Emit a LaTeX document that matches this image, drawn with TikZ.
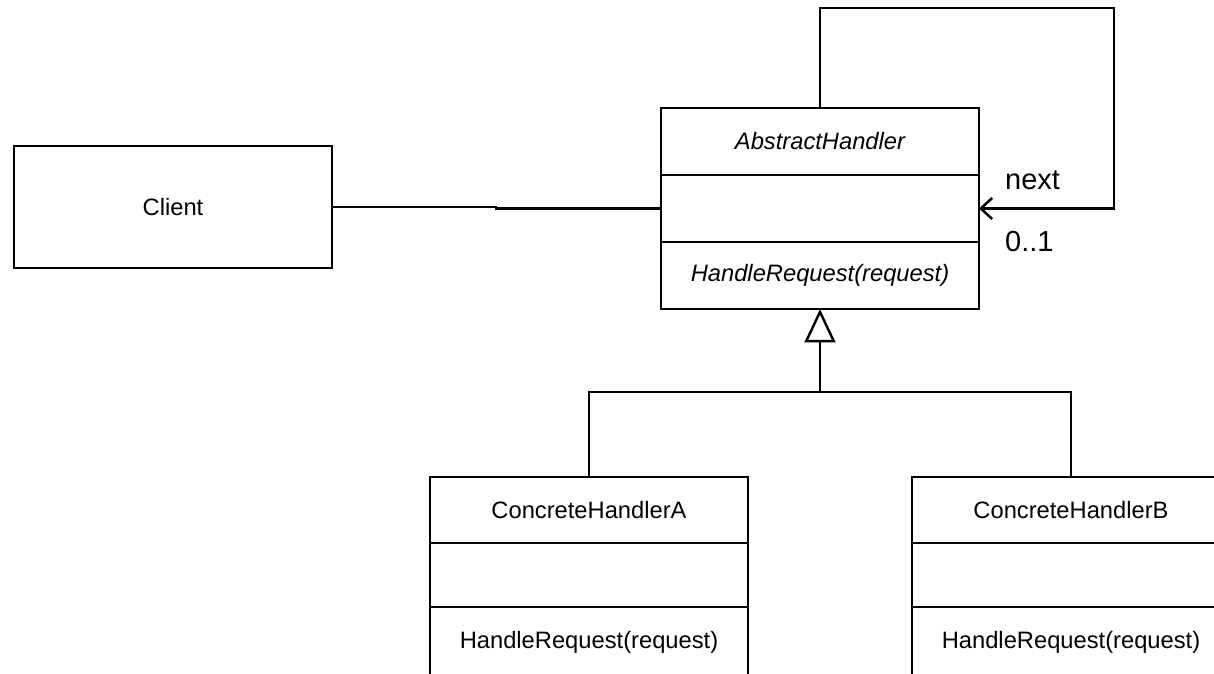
\documentclass[tikz,border=0pt]{standalone}
\usepackage{fontspec}
\setmainfont{Liberation Sans}
\usetikzlibrary{arrows.meta,positioning}

\begin{document}
\begin{tikzpicture}[x=0.02cm, y=-0.02cm, every node/.style={font=\fontsize{13.5}{16}\selectfont, align=center}, cls/.style={draw, line width=1.4pt, minimum width=6.36cm, inner sep=0pt, outer sep=0pt}, abstract/.style={font=\fontsize{13.5}{16}\selectfont\itshape}, role/.style={font=\fontsize{16.5}{19}\selectfont, anchor=west}, link/.style={line width=1.4pt}]
        \useasboundingbox (0,0) rectangle (1214,673);
        \clip (0,0) rectangle (1214,673);

        \node[cls, minimum height=2.44cm] (client) at (173,207) {Client};

        \node[cls, abstract, minimum height=1.34cm, anchor=north] (abs) at (820,108) {AbstractHandler};
        \node[cls, minimum height=1.34cm, below=0pt of abs] (absattr) {};
        \node[cls, abstract, minimum height=1.34cm, below=0pt of absattr] (absops) {HandleRequest(request)};

        \node[cls, minimum height=1.32cm, anchor=north] (cha) at (589,477) {ConcreteHandlerA};
        \node[cls, minimum height=1.28cm, below=0pt of cha] (chaattr) {};
        \node[cls, minimum height=1.42cm, below=0pt of chaattr, text depth=0.1cm] (chaops) {HandleRequest(request)};

        \node[cls, minimum height=1.32cm, anchor=north] (chb) at (1071,477) {ConcreteHandlerB};
        \node[cls, minimum height=1.28cm, below=0pt of chb] (chbattr) {};
        \node[cls, minimum height=1.42cm, below=0pt of chbattr, text depth=0.1cm] (chbops) {HandleRequest(request)};

        \coordinate (loop) at (1114,8);
        \coordinate (fork) at (820,392);

        \draw[link] (client.east) -- ++(164,0) |- (absattr.west);
        \draw[link, -{Straight Barb[length=6.5pt, width=12pt]}] (abs.north) |- (loop) |- (absattr.east);
        \node[role] (next) at (999,180) {next};
        \node[role] (mult) at (999,242) {0..1};
        \draw[link, -{Triangle[open, length=19pt, width=17.5pt]}] (fork) -- (absops.south);
        \draw[link] (cha.north) |- (fork) -| (chb.north);
    \end{tikzpicture}
\end{document}
